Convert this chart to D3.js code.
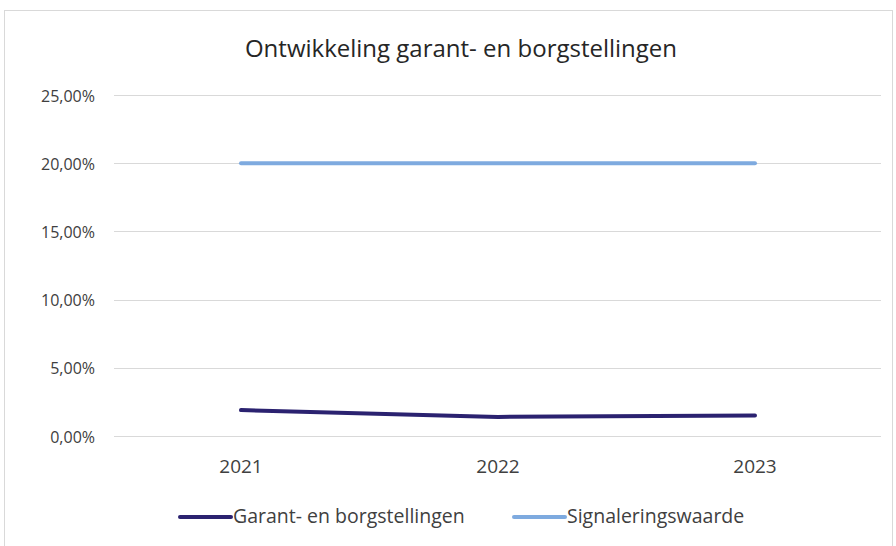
<!DOCTYPE html>
<html>
<head>
<meta charset="utf-8">
<script src="https://cdn.jsdelivr.net/npm/d3@7"></script>
<style>
  body { margin: 0; background: #fff; }
  svg { display: block; font-family: "Open Sans", sans-serif; }
</style>
</head>
<body>
<svg id="chart"></svg>
<script>
const years = ["2021", "2022", "2023"];
const garant = [0.019, 0.014, 0.015];
const signalering = [0.20, 0.20, 0.20];
const yTicks = [0, 0.05, 0.10, 0.15, 0.20, 0.25];
const seriesNames = ["Garant- en borgstellingen", "Signaleringswaarde"];
const seriesColors = ["#2b2270", "#7eaadf"];

const width = 896, height = 546;
const svg = d3.select("#chart").attr("width", width).attr("height", height);

// chart frame
svg.append("rect")
  .attr("x", 4.5).attr("y", 10.5)
  .attr("width", 888).attr("height", 540)
  .style("fill", "#fff")
  .style("stroke", "#d9d9d9");

const x = d3.scaleBand().domain(years).range([112.5, 883.5]);
const y = d3.scaleLinear().domain([0, 0.25]).range([436, 95]);

const fmt = v => d3.format(".2f")(v * 100).replace(".", ",") + "%";

// gridlines
svg.append("g")
  .selectAll("line")
  .data(yTicks)
  .enter()
  .append("line")
  .attr("x1", 114).attr("x2", 881)
  .attr("y1", d => Math.round(y(d)) + 0.5)
  .attr("y2", d => Math.round(y(d)) + 0.5)
  .style("stroke", "#d9d9d9");

// y labels
svg.append("g")
  .selectAll("text")
  .data(yTicks)
  .enter()
  .append("text")
  .attr("x", 95)
  .attr("y", d => y(d) + 6.5)
  .attr("text-anchor", "end")
  .style("font-size", "16px")
  .style("fill", "#404040")
  .text(fmt);

// x labels
svg.append("g")
  .selectAll("text")
  .data(years)
  .enter()
  .append("text")
  .attr("x", d => x(d) + x.bandwidth() / 2)
  .attr("y", 473)
  .attr("text-anchor", "middle")
  .style("font-size", "19px")
  .style("fill", "#404040")
  .text(d => d);

const line = d3.line()
  .x((d, i) => x(years[i]) + x.bandwidth() / 2)
  .y(d => y(d));

[garant, signalering].forEach((vals, i) => {
  svg.append("path")
    .datum(vals)
    .attr("d", line)
    .style("fill", "none")
    .style("stroke", seriesColors[i])
    .style("stroke-width", 4)
    .style("stroke-linecap", "round");
});

// title
svg.append("text")
  .attr("x", 461).attr("y", 57)
  .attr("text-anchor", "middle")
  .style("font-size", "24px")
  .style("fill", "#262626")
  .text("Ontwikkeling garant- en borgstellingen");

// legend
const legendX = [180, 514];
seriesNames.forEach((name, i) => {
  const g = svg.append("g").attr("transform", "translate(" + legendX[i] + ",517)");
  g.append("line")
    .attr("x1", 0).attr("x2", 51)
    .style("stroke", seriesColors[i])
    .style("stroke-width", 4)
    .style("stroke-linecap", "round");
  g.append("text")
    .attr("x", 53).attr("y", 6)
    .style("font-size", "19.5px")
    .style("fill", "#404040")
    .text(name);
});
</script>
</body>
</html>
